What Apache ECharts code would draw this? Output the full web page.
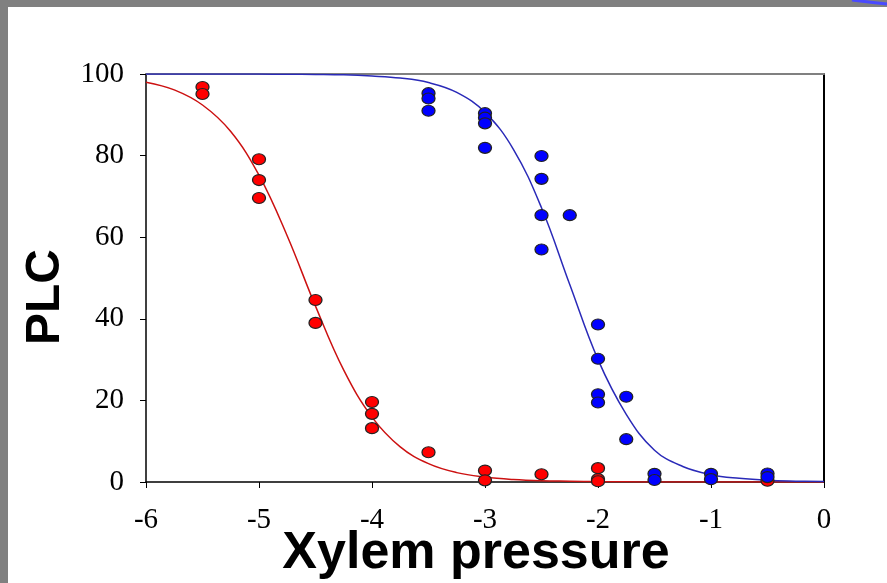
<!DOCTYPE html>
<html>
<head>
<meta charset="utf-8">
<script src="https://cdn.jsdelivr.net/npm/echarts@6/dist/echarts.min.js"></script>
<style>
  html, body { margin: 0; padding: 0; background: #ffffff; }
  #chart { width: 887px; height: 583px; }
</style>
</head>
<body>
<div id="chart"></div>
<script>
// ---- data ----
var xTicks = [-6, -5, -4, -3, -2, -1, 0];
var yTicks = [0, 20, 40, 60, 80, 100];

// curve sample positions and values
var curveX = [-6, -5.75, -5.5, -5.25, -5, -4.75, -4.5, -4.25, -4, -3.75, -3.5, -3.25, -3,
              -2.75, -2.5, -2.25, -2, -1.75, -1.5, -1.25, -1, -0.75, -0.5, -0.25, 0];
var redCurve = [98.0, 96.1, 92.4, 85.9, 75.2, 60.3, 43.1, 27.4, 15.9, 8.6, 4.5, 2.3, 1.2,
                0.6, 0.3, 0.2, 0.1, 0.05, 0, 0, 0, 0, 0, 0, 0];
var blueCurve = [100, 100, 100, 100, 99.98, 99.95, 99.9, 99.8, 99.5, 99.0, 97.9, 95.5, 90.6,
                 81.6, 67.2, 48.4, 30.0, 16.6, 7.8, 3.8, 1.8, 0.9, 0.4, 0.2, 0.1];

var redPoints = [[-5.5, 96.8], [-5.5, 95.1], [-5, 79.1], [-5, 74.0], [-5, 69.6],
                 [-4.5, 44.6], [-4.5, 39.0], [-4, 19.6], [-4, 16.7], [-4, 13.2],
                 [-3.5, 7.3], [-3, 2.8], [-3, 0.4], [-2.5, 1.9], [-2, 3.4], [-2, 0.7],
                 [-2, 0.2], [-0.5, 0.3]];
var bluePoints = [[-3.5, 95.3], [-3.5, 94.0], [-3.5, 91.0], [-3, 90.4], [-3, 89.3], [-3, 87.9],
                  [-3, 81.9], [-2.5, 79.9], [-2.5, 74.3], [-2.5, 65.4], [-2.5, 57.0],
                  [-2.25, 65.4], [-2, 38.6], [-2, 30.2], [-2, 21.5], [-2, 19.5],
                  [-1.75, 20.9], [-1.75, 10.5], [-1.5, 2.0], [-1.5, 0.5], [-1, 2.0],
                  [-1, 0.7], [-0.5, 2.1], [-0.5, 1.2]];

var xTitle = 'Xylem pressure';
var yTitle = 'PLC';

function zip(xs, ys) { return xs.map(function (x, i) { return [x, ys[i]]; }); }

var chart = echarts.init(document.getElementById('chart'), null, { renderer: 'canvas' });
var serif = "'Liberation Serif', 'Times New Roman', serif";
var sans = "'Liberation Sans', Arial, sans-serif";

chart.setOption({
  animation: false,
  backgroundColor: '#ffffff',
  grid: { left: 146, right: 63, top: 74, bottom: 101, containLabel: false, outerBoundsMode: 'none' },
  xAxis: [{
    type: 'value', min: xTicks[0], max: xTicks[xTicks.length - 1], interval: 1,
    axisLine: { onZero: false, lineStyle: { color: '#000', width: 1.5 } },
    axisTick: { show: true, length: 6, lineStyle: { color: '#000', width: 1 } },
    axisLabel: { fontFamily: serif, fontSize: 29, color: '#000', margin: 24 },
    splitLine: { show: false },
    name: xTitle, nameLocation: 'middle', nameGap: 46, nameMoveOverlap: false,
    nameTextStyle: { fontFamily: sans, fontWeight: 'bold', fontSize: 52, color: '#000',
                     padding: [0, 18, 0, 0] }
  }, {
    type: 'value', position: 'top', min: xTicks[0], max: xTicks[xTicks.length - 1],
    axisLine: { onZero: false, lineStyle: { color: '#808080', width: 2 } },
    axisTick: { show: false }, axisLabel: { show: false }, splitLine: { show: false }
  }],
  yAxis: [{
    type: 'value', min: yTicks[0], max: yTicks[yTicks.length - 1], interval: 20,
    axisLine: { show: true, onZero: false, lineStyle: { color: '#000', width: 1.5 } },
    axisTick: { show: true, length: 6, lineStyle: { color: '#000', width: 1 } },
    axisLabel: { fontFamily: serif, fontSize: 29, color: '#000', margin: 22 },
    splitLine: { show: false },
    name: yTitle, nameLocation: 'middle', nameGap: 76, nameRotate: 90, nameMoveOverlap: false,
    nameTextStyle: { fontFamily: sans, fontWeight: 'bold', fontSize: 48, color: '#000',
                     padding: [0, 38, 0, 0] }
  }, {
    type: 'value', position: 'right', min: yTicks[0], max: yTicks[yTicks.length - 1],
    axisLine: { show: true, onZero: false, lineStyle: { color: '#000', width: 2 } },
    axisTick: { show: false }, axisLabel: { show: false }, splitLine: { show: false }
  }],
  graphic: [
    { type: 'rect', left: 0, top: 0, shape: { width: 887, height: 7 }, style: { fill: '#808080' }, z: 100 },
    { type: 'rect', left: 0, top: 0, shape: { width: 8, height: 583 }, style: { fill: '#808080' }, z: 100 },
    { type: 'bezierCurve', shape: { x1: 852, y1: 0, x2: 887, y2: 4, cpx1: 868, cpy1: 2 },
      style: { stroke: '#4a4aff', lineWidth: 3, fill: null }, z: 101 }
  ],
  series: [
    { type: 'line', data: zip(curveX, redCurve), smooth: 0.4, showSymbol: false, clip: true,
      lineStyle: { color: '#cc1111', width: 1.5 }, silent: true, z: 2 },
    { type: 'line', data: zip(curveX, blueCurve), smooth: 0.4, showSymbol: false, clip: true,
      lineStyle: { color: '#2a2ab8', width: 1.5 }, silent: true, z: 3 },
    { type: 'scatter', data: redPoints, symbol: 'circle', symbolSize: [13, 11],
      itemStyle: { color: '#ff0000', borderColor: '#222', borderWidth: 1.2, opacity: 1 }, z: 4 },
    { type: 'scatter', data: bluePoints, symbol: 'circle', symbolSize: [13, 11],
      itemStyle: { color: '#0000ff', borderColor: '#222', borderWidth: 1.2, opacity: 1 }, z: 5 }
  ]
});
</script>
</body>
</html>
